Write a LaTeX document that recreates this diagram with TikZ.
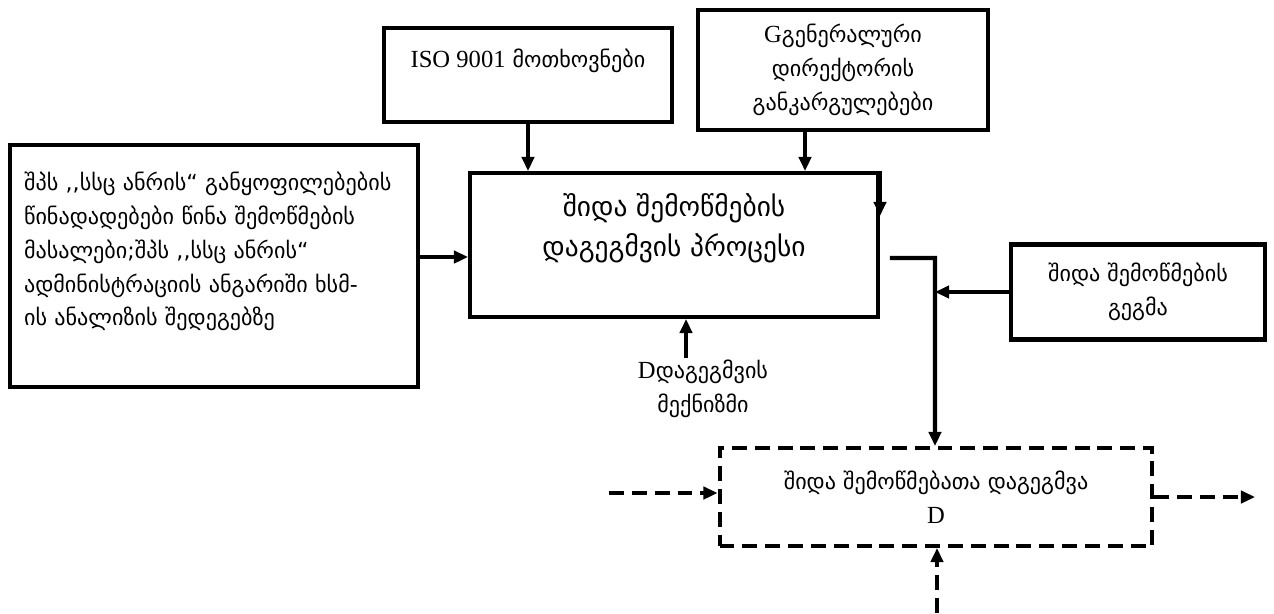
\documentclass[tikz,border=0pt]{standalone}
\usepackage{fontspec}
\setmainfont{Liberation Serif}
\newfontfamily\geo{DejaVu Sans}
\usepackage{tikz}
\usetikzlibrary{arrows.meta}

\newcommand{\lat}[1]{{\rmfamily\fontsize{14}{18.7}\selectfont #1}}

\begin{document}
\begin{tikzpicture}[x=0.02cm, y=-0.02cm,
	box/.style = {draw, line width=2.3pt, align=center, inner sep=0pt, font=\geo\fontsize{12.6}{19.2}\selectfont},
	dbox/.style = {box, dash pattern=on 8.5pt off 4.5pt},
	arr/.style = {line width=2.3pt, -{Triangle[length=8pt,width=7pt]}},
	darr/.style = {arr, dash pattern=on 8.5pt off 4.5pt}]
	\useasboundingbox (0,0) rectangle (1274,613);
	% boxes
	\node [box, minimum width=8.16cm, minimum height=4.84cm, text width=7.6cm, align=left] (pred) at (214,266)
		{შპს ,,სსც ანრის“ განყოფილებების\\წინადადებები წინა შემოწმების\\მასალები;შპს ,,სსც ანრის“\\ადმინისტრაციის ანგარიში ხსმ-\\ის ანალიზის შედეგებზე\\\mbox{}};
	\node [box, minimum width=5.76cm, minimum height=1.88cm] (iso) at (528,75)
		{\lat{ISO 9001} მოთხოვნები\\\mbox{}};
	\node [box, minimum width=5.8cm, minimum height=2.4cm] (gen) at (843,70)
		{\lat{G}გენერალური\\დირექტორის\\განკარგულებები};
	\node [box, minimum width=8.16cm, minimum height=2.88cm, font=\geo\fontsize{15.6}{22.7}\selectfont] (main) at (674,245)
		{შიდა შემოწმების\\დაგეგმვის პროცესი\\\mbox{}};
	\node [box, minimum width=5.08cm, minimum height=1.9cm] (gegma) at (1138,292)
		{შიდა შემოწმების\\გეგმა};
	\node [dbox, minimum width=8.66cm, minimum height=1.96cm] (plan) at (936,497)
		{შიდა შემოწმებათა დაგეგმვა\\\lat{D}};
	\node [box, draw=none] (mech) at (703,389)
		{\lat{D}დაგეგმვის\\მექნიზმი};
	% connectors
	\coordinate (jn) at (935,258);
	\coordinate (din) at (609,493);
	\coordinate (dout) at (1255,497);
	\coordinate (dbot) at (937,613);
	\draw [arr] (iso.south) -- (iso.south |- main.north);
	\draw [arr] ([xshift=-0.76cm]gen.south) -- ([xshift=-0.76cm]gen.south |- main.north);
	\draw [arr] (main.north east) -- ([yshift=-0.9cm]main.north east);
	\draw [arr] ([yshift=0.18cm]pred.east) -- ([yshift=0.18cm]pred.east -| main.west);
	\draw [arr] ([xshift=-0.34cm]mech.north) -- ([xshift=-0.34cm]mech.north |- main.south);
	\draw [arr] ([xshift=0.2cm,yshift=-0.26cm]main.east) -- (jn) -- (jn |- plan.north);
	\draw [arr] (gegma.west) -- (gegma.west -| jn);
	\draw [darr] (din) -- (din -| plan.west);
	\draw [darr] (plan.east |- dout) -- (dout);
	\draw [darr] (dbot) -- (dbot |- plan.south);
\end{tikzpicture}
\end{document}
